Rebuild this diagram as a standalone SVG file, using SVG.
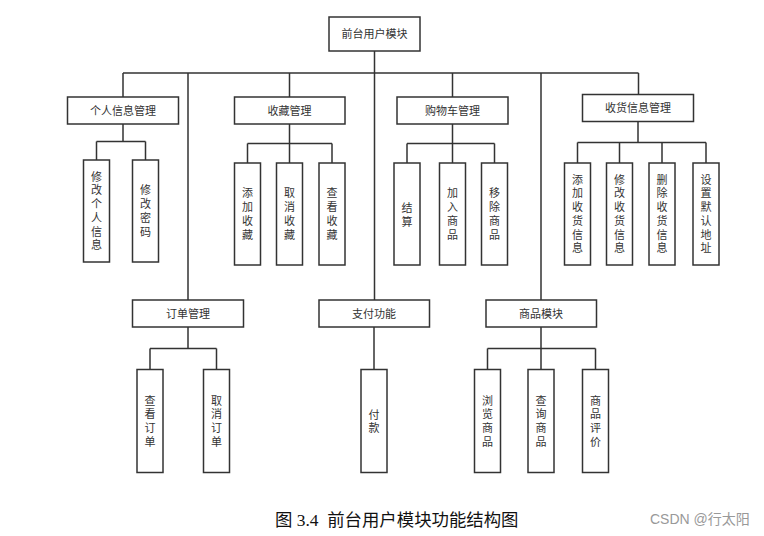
<svg xmlns="http://www.w3.org/2000/svg" width="764" height="536" viewBox="0 0 764 536">
<style>
.box{fill:#fff;stroke:#333;stroke-width:1.5}
.lbl{font-family:"Liberation Serif","Noto Sans CJK SC",serif;font-size:11px;fill:#333;text-anchor:middle;dominant-baseline:central}
.conn path{fill:none;stroke:#333;stroke-width:1.5}
.cap{font-family:"Liberation Serif","Noto Sans CJK SC",serif;font-size:17.4px;fill:#111}
.wm{font-family:"Liberation Sans","Noto Sans CJK SC",sans-serif;font-size:14px;fill:#999}
</style>
<rect width="764" height="536" fill="#fff"/>
<g class="conn">
<path d="M374.5 51V73M123 73H638.5M123 73V97M289.5 73V97M452.5 73V97M638.5 73V94.5M188 73V300M374.5 73V300M541 73V300"/>
<path d="M123 124V141.5M96.5 141.5H145.5M96.5 141.5V160M145.5 141.5V160"/>
<path d="M289.5 124V143.5M247.5 143.5H332M247.5 143.5V163M289.5 143.5V163M332 143.5V163"/>
<path d="M452.5 124V143.5M407 143.5H494.5M407 143.5V163M452.5 143.5V163M494.5 143.5V163"/>
<path d="M638 121.5V142.5M577.5 142.5H706M577.5 142.5V163M619.5 142.5V163M662 142.5V163M706 142.5V163"/>
<path d="M188 327V348.5M150 348.5H216.5M150 348.5V369.5M216.5 348.5V369.5"/>
<path d="M374 327V369.5"/>
<path d="M541 327V348.5M487.5 348.5H595.5M487.5 348.5V369.5M541 348.5V369.5M595.5 348.5V369.5"/>
</g>
<g id="root"><rect class="box" x="329" y="17" width="91" height="34"/><text class="lbl" x="374.5" y="34">前台用户模块</text></g>
<g id="grxx"><rect class="box" x="67.5" y="97" width="111" height="27"/><text class="lbl" x="123" y="110.5">个人信息管理</text></g>
<g id="sc"><rect class="box" x="234.5" y="97" width="110.5" height="27"/><text class="lbl" x="289.5" y="110.5">收藏管理</text></g>
<g id="gwc"><rect class="box" x="397" y="97" width="111" height="27"/><text class="lbl" x="452.5" y="110.5">购物车管理</text></g>
<g id="shxx"><rect class="box" x="582.5" y="94.5" width="111" height="27"/><text class="lbl" x="638" y="108">收货信息管理</text></g>
<g id="dd"><rect class="box" x="132.5" y="300" width="111" height="27"/><text class="lbl" x="188" y="313.5">订单管理</text></g>
<g id="zf"><rect class="box" x="319" y="300" width="110.5" height="27"/><text class="lbl" x="374" y="313.5">支付功能</text></g>
<g id="sp"><rect class="box" x="486" y="300" width="110.5" height="27"/><text class="lbl" x="541" y="313.5">商品模块</text></g>

<g id="xggrxx"><rect class="box" x="83.5" y="160" width="26" height="102"/><text class="lbl"><tspan x="96.5" y="176.7">修</tspan><tspan x="96.5" y="190.4">改</tspan><tspan x="96.5" y="204.1">个</tspan><tspan x="96.5" y="217.8">人</tspan><tspan x="96.5" y="231.5">信</tspan><tspan x="96.5" y="245.2">息</tspan></text></g>
<g id="xgmm"><rect class="box" x="132.5" y="160" width="26" height="102"/><text class="lbl"><tspan x="145.5" y="190.4">修</tspan><tspan x="145.5" y="204.1">改</tspan><tspan x="145.5" y="217.8">密</tspan><tspan x="145.5" y="231.5">码</tspan></text></g>

<g id="tjsc"><rect class="box" x="234.5" y="163" width="26" height="102"/><text class="lbl"><tspan x="247.5" y="193.4">添</tspan><tspan x="247.5" y="207.1">加</tspan><tspan x="247.5" y="220.8">收</tspan><tspan x="247.5" y="234.5">藏</tspan></text></g>
<g id="qxsc"><rect class="box" x="276.5" y="163" width="26" height="102"/><text class="lbl"><tspan x="289.5" y="193.4">取</tspan><tspan x="289.5" y="207.1">消</tspan><tspan x="289.5" y="220.8">收</tspan><tspan x="289.5" y="234.5">藏</tspan></text></g>
<g id="cksc"><rect class="box" x="319" y="163" width="26" height="102"/><text class="lbl"><tspan x="332" y="193.4">查</tspan><tspan x="332" y="207.1">看</tspan><tspan x="332" y="220.8">收</tspan><tspan x="332" y="234.5">藏</tspan></text></g>

<g id="js"><rect class="box" x="394" y="163" width="26" height="102"/><text class="lbl"><tspan x="407" y="208">结</tspan><tspan x="407" y="221.7">算</tspan></text></g>
<g id="jrsp"><rect class="box" x="439.5" y="163" width="26" height="102"/><text class="lbl"><tspan x="452.5" y="193.4">加</tspan><tspan x="452.5" y="207.1">入</tspan><tspan x="452.5" y="220.8">商</tspan><tspan x="452.5" y="234.5">品</tspan></text></g>
<g id="ycsp"><rect class="box" x="481.5" y="163" width="26" height="102"/><text class="lbl"><tspan x="494.5" y="193.4">移</tspan><tspan x="494.5" y="207.1">除</tspan><tspan x="494.5" y="220.8">商</tspan><tspan x="494.5" y="234.5">品</tspan></text></g>

<g id="tjshxx"><rect class="box" x="564.5" y="163" width="26" height="102"/><text class="lbl"><tspan x="577.5" y="179.7">添</tspan><tspan x="577.5" y="193.4">加</tspan><tspan x="577.5" y="207.1">收</tspan><tspan x="577.5" y="220.8">货</tspan><tspan x="577.5" y="234.5">信</tspan><tspan x="577.5" y="248.2">息</tspan></text></g>
<g id="xgshxx"><rect class="box" x="606.5" y="163" width="26" height="102"/><text class="lbl"><tspan x="619.5" y="179.7">修</tspan><tspan x="619.5" y="193.4">改</tspan><tspan x="619.5" y="207.1">收</tspan><tspan x="619.5" y="220.8">货</tspan><tspan x="619.5" y="234.5">信</tspan><tspan x="619.5" y="248.2">息</tspan></text></g>
<g id="scshxx"><rect class="box" x="649" y="163" width="26" height="102"/><text class="lbl"><tspan x="662" y="179.7">删</tspan><tspan x="662" y="193.4">除</tspan><tspan x="662" y="207.1">收</tspan><tspan x="662" y="220.8">货</tspan><tspan x="662" y="234.5">信</tspan><tspan x="662" y="248.2">息</tspan></text></g>
<g id="szmrdz"><rect class="box" x="693" y="163" width="26" height="102"/><text class="lbl"><tspan x="706" y="179.7">设</tspan><tspan x="706" y="193.4">置</tspan><tspan x="706" y="207.1">默</tspan><tspan x="706" y="220.8">认</tspan><tspan x="706" y="234.5">地</tspan><tspan x="706" y="248.2">址</tspan></text></g>

<g id="ckdd"><rect class="box" x="137" y="369.5" width="26" height="103"/><text class="lbl"><tspan x="150" y="400.5">查</tspan><tspan x="150" y="414.2">看</tspan><tspan x="150" y="427.9">订</tspan><tspan x="150" y="441.6">单</tspan></text></g>
<g id="qxdd"><rect class="box" x="203.5" y="369.5" width="26" height="103"/><text class="lbl"><tspan x="216.5" y="400.5">取</tspan><tspan x="216.5" y="414.2">消</tspan><tspan x="216.5" y="427.9">订</tspan><tspan x="216.5" y="441.6">单</tspan></text></g>
<g id="fk"><rect class="box" x="361" y="369.5" width="26" height="103"/><text class="lbl"><tspan x="374" y="414.5">付</tspan><tspan x="374" y="428.2">款</tspan></text></g>
<g id="llsp"><rect class="box" x="474.5" y="369.5" width="26" height="103"/><text class="lbl"><tspan x="487.5" y="400.5">浏</tspan><tspan x="487.5" y="414.2">览</tspan><tspan x="487.5" y="427.9">商</tspan><tspan x="487.5" y="441.6">品</tspan></text></g>
<g id="cxsp"><rect class="box" x="528" y="369.5" width="26" height="103"/><text class="lbl"><tspan x="541" y="400.5">查</tspan><tspan x="541" y="414.2">询</tspan><tspan x="541" y="427.9">商</tspan><tspan x="541" y="441.6">品</tspan></text></g>
<g id="sppj"><rect class="box" x="582.5" y="369.5" width="26" height="103"/><text class="lbl"><tspan x="595.5" y="400.5">商</tspan><tspan x="595.5" y="414.2">品</tspan><tspan x="595.5" y="427.9">评</tspan><tspan x="595.5" y="441.6">价</tspan></text></g>

<text class="cap" x="275" y="526" xml:space="preserve">图 3.4  前台用户模块功能结构图</text>
<text class="wm" x="650" y="524">CSDN @行太阳</text>
</svg>
